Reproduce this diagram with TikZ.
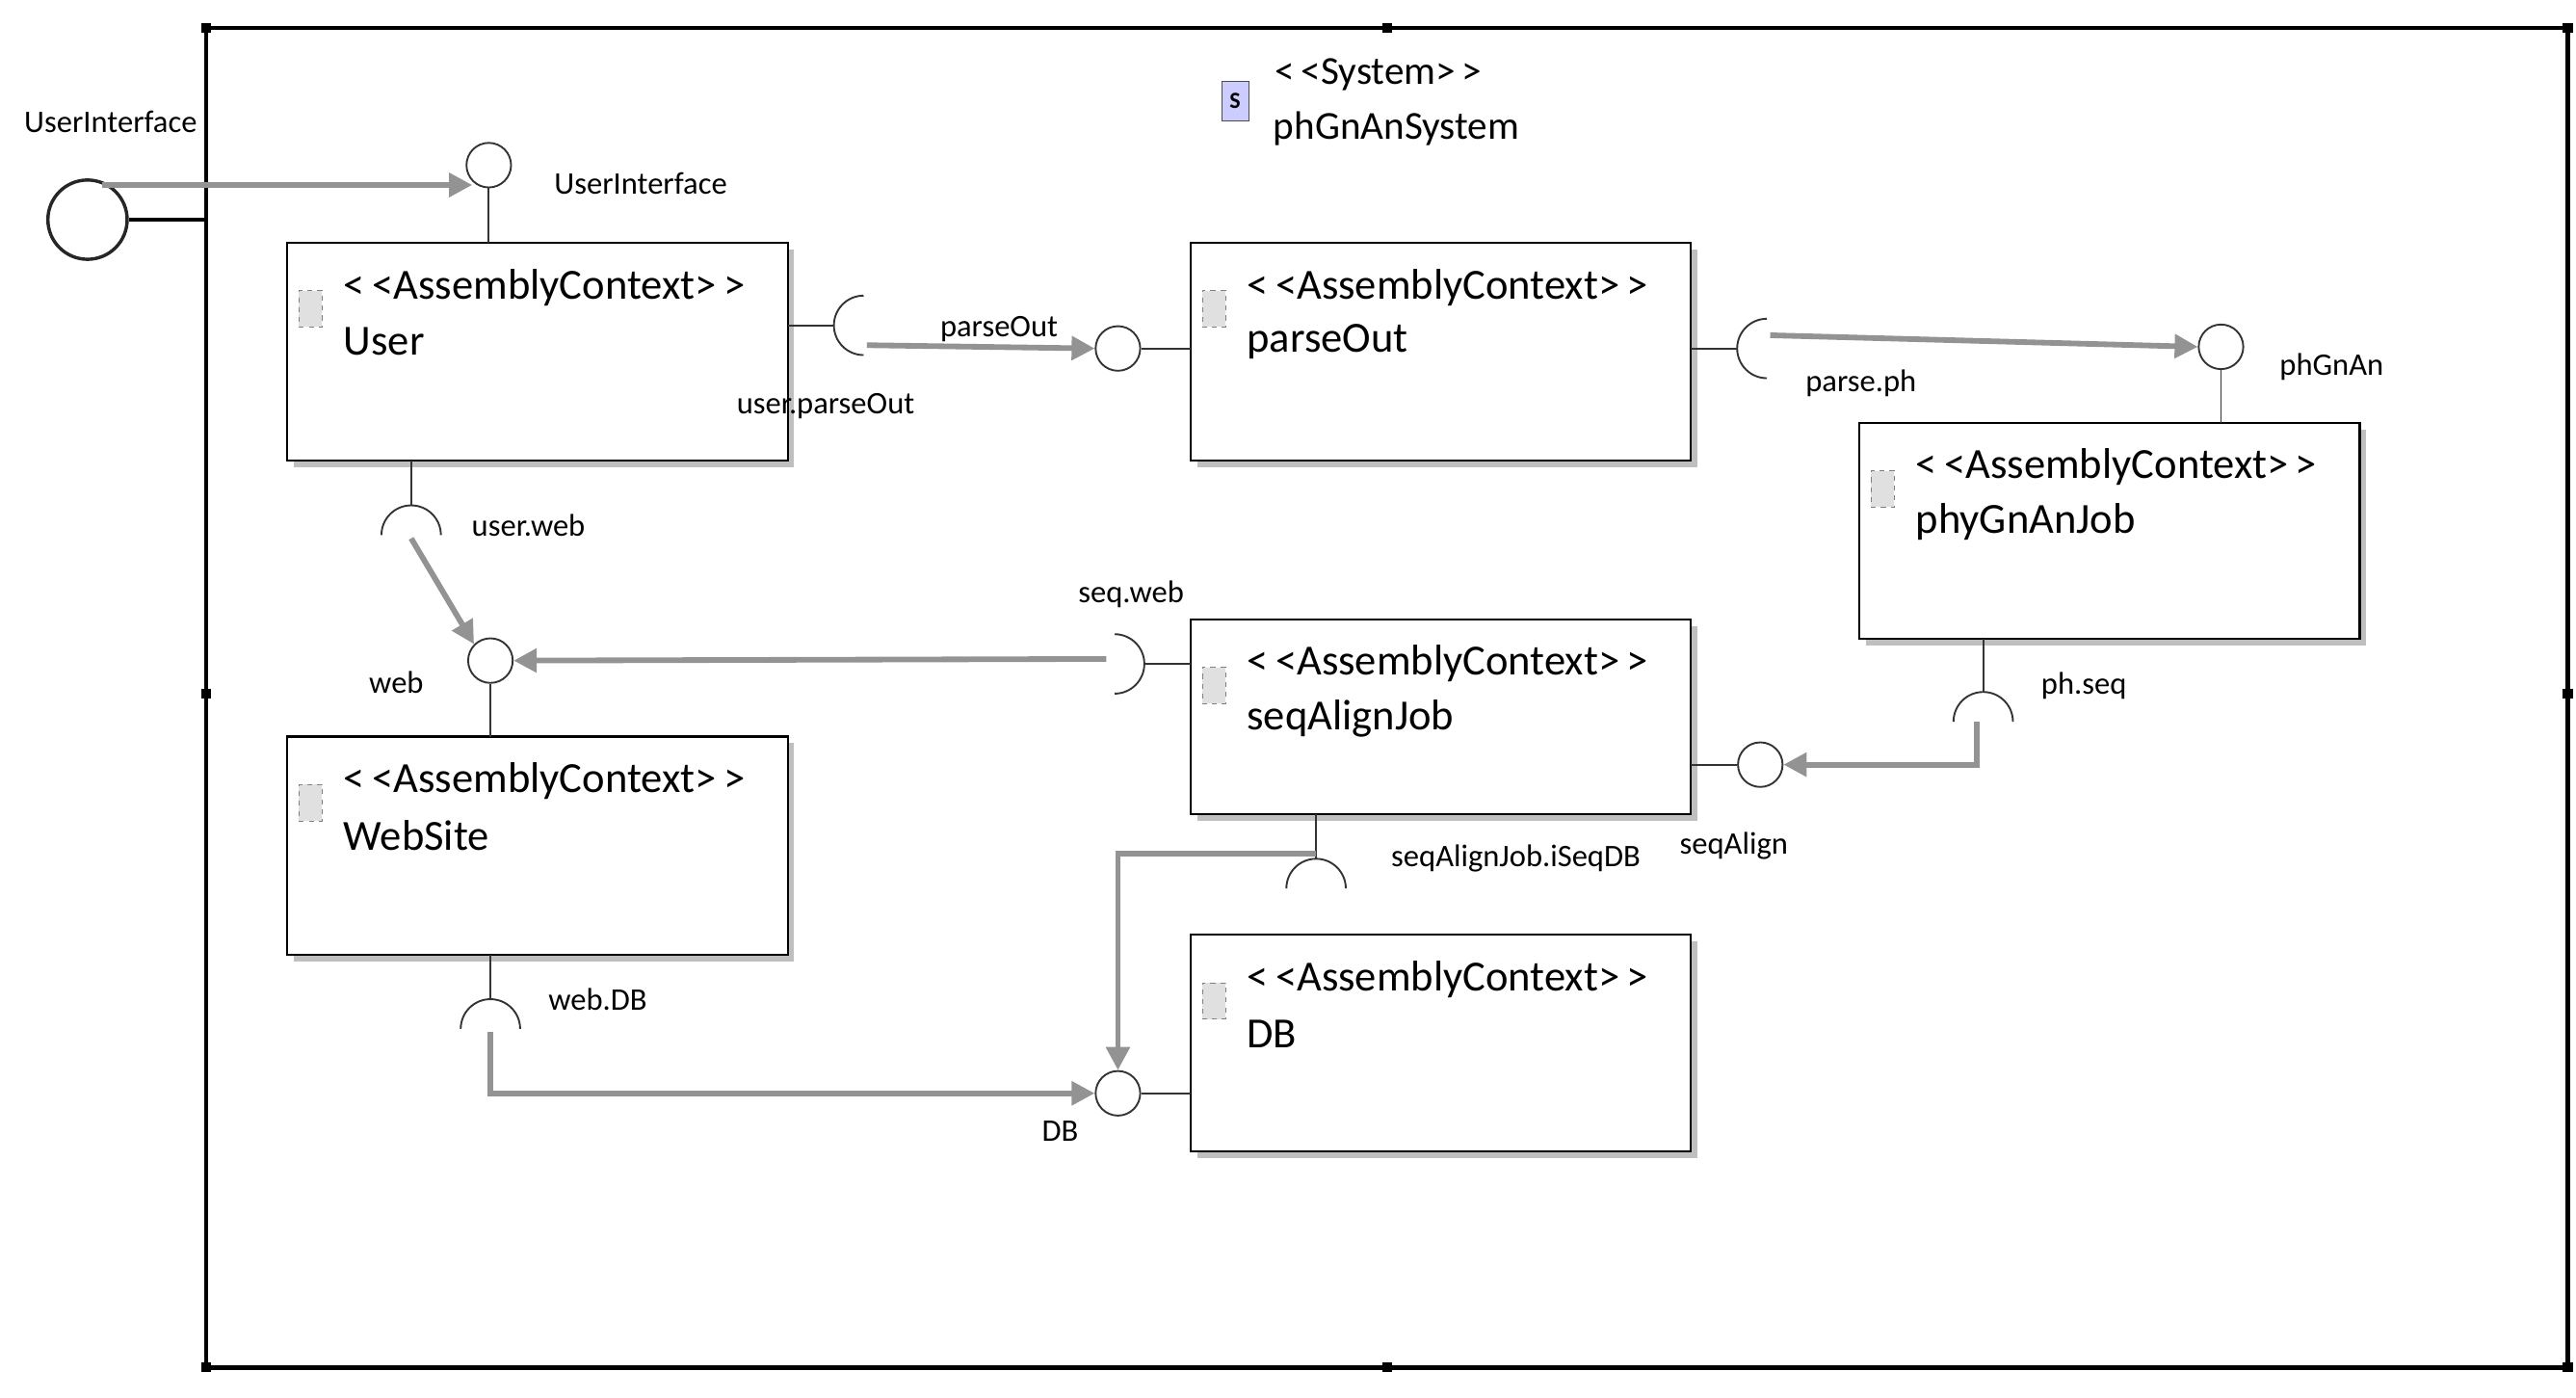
\documentclass[tikz,border=0pt]{standalone}
\usepackage{fontspec}
\setmainfont{Carlito}
\usetikzlibrary{arrows.meta,calc}
\newcommand{\stereo}[1]{{<}\,{<}#1{>}\,{>}}
\begin{document}
\begin{tikzpicture}[x=1pt,y=-1pt,
  lbl/.style={font=\fontsize{19}{21}\selectfont,inner sep=0pt},
  conn/.style={draw=gray!85,line width=3.4pt,-{Triangle[length=14pt,width=14pt]}},
  thin/.style={draw=black!80,line width=1.1pt},
  lolli/.style={circle,draw=black!80,line width=1.1pt,fill=white,minimum size=27pt,inner sep=0pt},
  hnd/.style={fill=black,minimum size=6pt,inner sep=0pt},
  icon/.style={draw=black!50,dashed,fill=black!12,minimum width=14pt,minimum height=22pt,inner sep=0pt}]
\useasboundingbox (0,0) rectangle (1560,846);
% frame
\draw[line width=2.6pt] (125,17) rectangle (1555,828);
\foreach \p/\n in {{125,17}/h1,{840,17}/h2,{1555,17}/h3,{125,420}/h4,{1555,420}/h5,{125,828}/h6,{840,828}/h7,{1555,828}/h8}
  \node[hnd] (\n) at (\p) {};
% title
\node[draw=black!70,fill=blue!20,minimum width=16pt,minimum height=24pt,inner sep=0pt,font=\bfseries\fontsize{14}{14}\selectfont] (sysicon) at (748,61) {S};
\node[lbl,font=\fontsize{24}{26}\selectfont,anchor=west] (sys1) at (772,45) {\stereo{System}};
\node[lbl,font=\fontsize{24}{26}\selectfont,anchor=west] (sys2) at (771,78) {phGnAnSystem};
% boxes
\foreach \n/\a/\b/\t in {user/{174,147}/{477,279}/User, parse/{721,147}/{1024,279}/parseOut, phy/{1126,256}/{1429,387}/phyGnAnJob, seq/{721,375}/{1024,493}/seqAlignJob, web/{174,446}/{477,578}/WebSite, db/{721,566}/{1024,697}/DB}{
  \fill[black!25] ($(\a)+(4,4)$) rectangle ($(\b)+(4,4)$);
  \draw[line width=1.2pt,fill=white] (\a) rectangle (\b);
  \node[icon] (\n-icon) at ($(\a)+(14,40)$) {};
  \node[lbl,font=\fontsize{26}{28}\selectfont,anchor=west] (\n-st) at ($(\a)+(34,27)$) {\stereo{AssemblyContext}};
  \node[lbl,font=\fontsize{26}{28}\selectfont,anchor=west] (\n-nm) at ($(\a)+(34,60)$) {\t};
}
% outer port
\node[circle,draw=black!85,line width=2pt,minimum size=48pt,inner sep=0pt] (outer) at (53,133) {};
\draw[line width=2pt] (outer.east) -- (125,133);
\node[lbl] (l-ui0) at (67,74) {UserInterface};
% provided lollipops
\node[lolli] (p-ui) at (296,100) {};
\draw[thin] (p-ui.south) -- (296,147);
\node[lbl] (l-ui) at (388,111) {UserInterface};
\node[lolli] (p-po) at (677,211) {};
\draw[thin] (p-po.east) -- (721,211);
\node[lolli] (p-ph) at (1345,210) {};
\draw[thin] (p-ph.south) -- (1345,256);
\node[lolli] (p-sq) at (1066,463) {};
\draw[thin] (p-sq.west) -- (1024,463);
\node[lolli] (p-web) at (297,400) {};
\draw[thin] (p-web.south) -- (297,446);
\node[lolli] (p-db) at (677,662) {};
\draw[thin] (p-db.east) -- (721,662);
% required sockets
\draw[thin] (477,197) -- (505,197);
\draw[thin] (523,179) arc[start angle=270,end angle=90,radius=18];
\draw[thin] (1024,211) -- (1052,211);
\draw[thin] (1070,193) arc[start angle=270,end angle=90,radius=18];
\draw[thin] (249,279) -- (249,306);
\draw[thin] (231,324) arc[start angle=180,end angle=360,radius=18];
\draw[thin] (297,578) -- (297,605);
\draw[thin] (279,623) arc[start angle=180,end angle=360,radius=18];
\draw[thin] (797,493) -- (797,520);
\draw[thin] (779,538) arc[start angle=180,end angle=360,radius=18];
\draw[thin] (1201,387) -- (1201,419);
\draw[thin] (1183,437) arc[start angle=180,end angle=360,radius=18];
\draw[thin] (721,402) -- (693,402);
\draw[thin] (675,384) arc[start angle=270,end angle=450,radius=18];
% connector ends
\coordinate (c-ui0) at (62,112);
\coordinate (c-ui1) at (286,112);
\coordinate (c-po) at (525,209);
\coordinate (c-pp) at (1072,203);
\coordinate (c-ps) at (1197,437);
\coordinate (c-sw) at (670,399);
\coordinate (c-uw) at (249,326);
\coordinate (c-wd) at (297,625);
\coordinate (c-sd) at (797,517);
% connectors
\draw[conn] (c-ui0) -- (c-ui1);
\draw[conn] (c-po) -- (p-po.west);
\draw[conn] (c-pp) -- (p-ph.west);
\draw[conn] (c-ps) |- (p-sq.east);
\draw[conn] (c-sw) -- (p-web.east);
\draw[conn] (c-uw) -- (p-web.north west);
\draw[conn] (c-wd) |- (p-db.west);
\draw[conn] (c-sd) -| (p-db.north);
% labels
\node[lbl] (l-po) at (605,199) {parseOut};
\node[lbl] (l-upo) at (500,246) {user.parseOut};
\node[lbl] (l-pph) at (1127,232) {parse.ph};
\node[lbl] (l-pg) at (1412,222) {phGnAn};
\node[lbl] (l-uw) at (320,318) {user.web};
\node[lbl] (l-w) at (240,413) {web};
\node[lbl] (l-sw) at (685,360) {seq.web};
\node[lbl] (l-ps) at (1262,415) {ph.seq};
\node[lbl] (l-wd) at (362,605) {web.DB};
\node[lbl] (l-db) at (642,685) {DB};
\node[lbl] (l-sd) at (918,520) {seqAlignJob.iSeqDB};
\node[lbl] (l-sa) at (1050,512) {seqAlign};
\end{tikzpicture}
\end{document}
